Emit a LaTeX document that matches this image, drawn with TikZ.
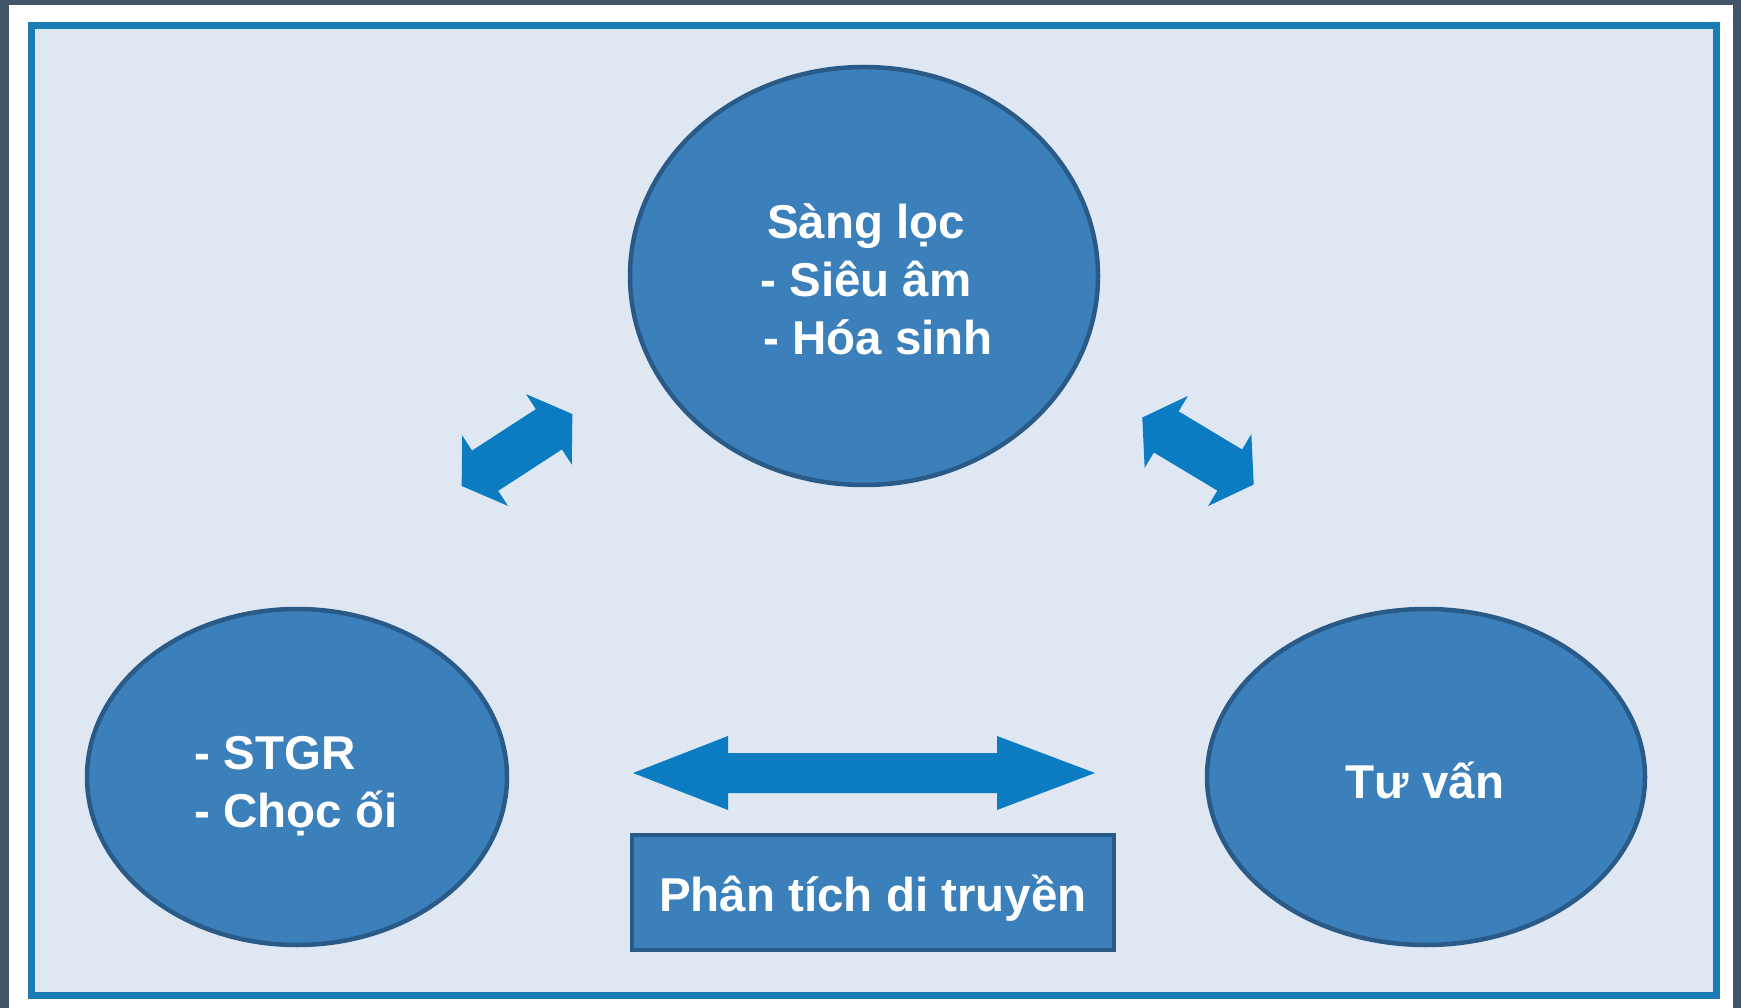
\documentclass[tikz,border=0pt]{standalone}
\usepackage{fontspec}
\setmainfont{Liberation Sans}
\definecolor{outerbg}{HTML}{44546A}
\definecolor{panel}{HTML}{DFE7F2}
\definecolor{framec}{HTML}{1A7BB5}
\definecolor{ellfill}{HTML}{3B80BA}
\definecolor{ellline}{HTML}{2A5A88}
\definecolor{arrowc}{HTML}{0B7BC2}
\begin{document}
\begin{tikzpicture}[x=1pt,y=-1pt,
  blob/.style={fill=ellfill, draw=ellline, line width=4.5pt},
  label/.style={text=white, font=\fontsize{47.5}{58}\selectfont\bfseries},
  boxnode/.style={rectangle, fill=ellfill, draw=ellline, line width=4.5pt},
  blockarrow/.style={fill=arrowc}]
\useasboundingbox (0,0) rectangle (1741,1008);
\fill[outerbg] (0,0) rectangle (1741,1008);
\fill[white] (9,5) rectangle (1733,1008);
\draw[framec, fill=panel, line width=7pt] (31,26) rectangle (1716,995);
% ellipses
\path[blob] (864,276) ellipse [x radius=234, y radius=209];
\path[blob] (297,777) ellipse [x radius=210, y radius=168];
\path[blob] (1426,777) ellipse [x radius=219, y radius=168];
\node[label, align=center] (top) at (866,279) {Sàng lọc\\- Siêu âm\\\hspace{24pt}- Hóa sinh};
\node[label, align=left] (left) at (296,786) {- STGR\\- Chọc ối};
\node[label] (right) at (1425,780) {Tư vấn};
% rectangle
\node[boxnode, minimum width=482pt, minimum height=115pt, inner sep=0pt] (box) at (873,892.5) {};
\node[label] (boxtext) at (873,898) {Phân tích di truyền};
% horizontal double arrow
\fill[blockarrow] (633,773) -- (728,736) -- (728,753) -- (997,753) -- (997,736) -- (1095,773)
  -- (997,810) -- (997,793) -- (728,793) -- (728,810) -- cycle;
% diagonal arrows
\begin{scope}[shift={(517,450)}, rotate=33]
\fill[blockarrow] (-66,0) -- (-38,42) -- (-38,24) -- (38,24) -- (38,42) -- (66,0)
  -- (38,-42) -- (38,-24) -- (-38,-24) -- (-38,-42) -- cycle;
\end{scope}
\begin{scope}[shift={(1198,451)}, rotate=-31]
\fill[blockarrow] (-65,0) -- (-37,42) -- (-37,24) -- (37,24) -- (37,42) -- (65,0)
  -- (37,-42) -- (37,-24) -- (-37,-24) -- (-37,-42) -- cycle;
\end{scope}
\end{tikzpicture}
\end{document}
